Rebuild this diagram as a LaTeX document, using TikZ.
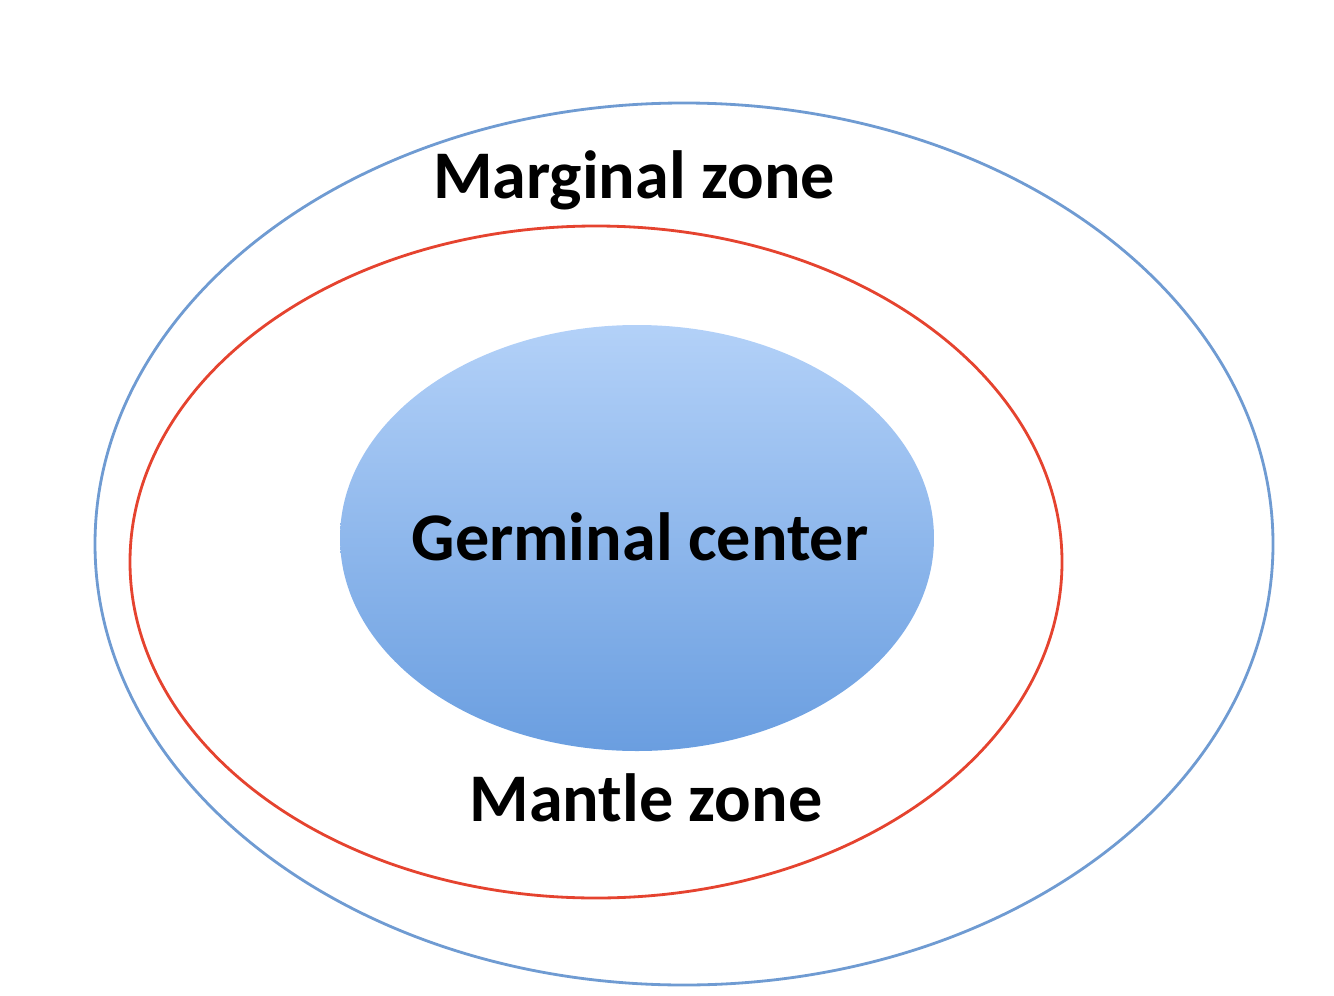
\documentclass[tikz,border=0pt]{standalone}
\usepackage{fontspec}
\setmainfont{Carlito}
\usepackage{tikz}

\definecolor{zoneblue}{HTML}{6F9BD2}
\definecolor{zonered}{HTML}{E5432F}
\definecolor{gctop}{HTML}{B3D1F8}
\definecolor{gcbottom}{HTML}{6A9EE0}

\begin{document}
\begin{tikzpicture}[every node/.style={font=\fontsize{19.4}{23}\selectfont\bfseries}, zone/.style={line width=0.8pt}]
	\useasboundingbox (0,0) rectangle (13.34,9.95);
	\draw[zone, zoneblue] (6.84,4.51) ellipse (5.89 and 4.41);
	\draw[zone, zonered] (5.96,4.33) ellipse (4.66 and 3.36);
	\shade[top color=gctop, bottom color=gcbottom] (6.37,4.57) ellipse (2.97 and 2.13);
	\node (marginal) at (6.34,8.15) {Marginal zone};
	\node (germinal) at (6.40,4.58) {Germinal center};
	\node (mantle) at (6.46,1.97) {Mantle zone};
	
\end{tikzpicture}
\end{document}
